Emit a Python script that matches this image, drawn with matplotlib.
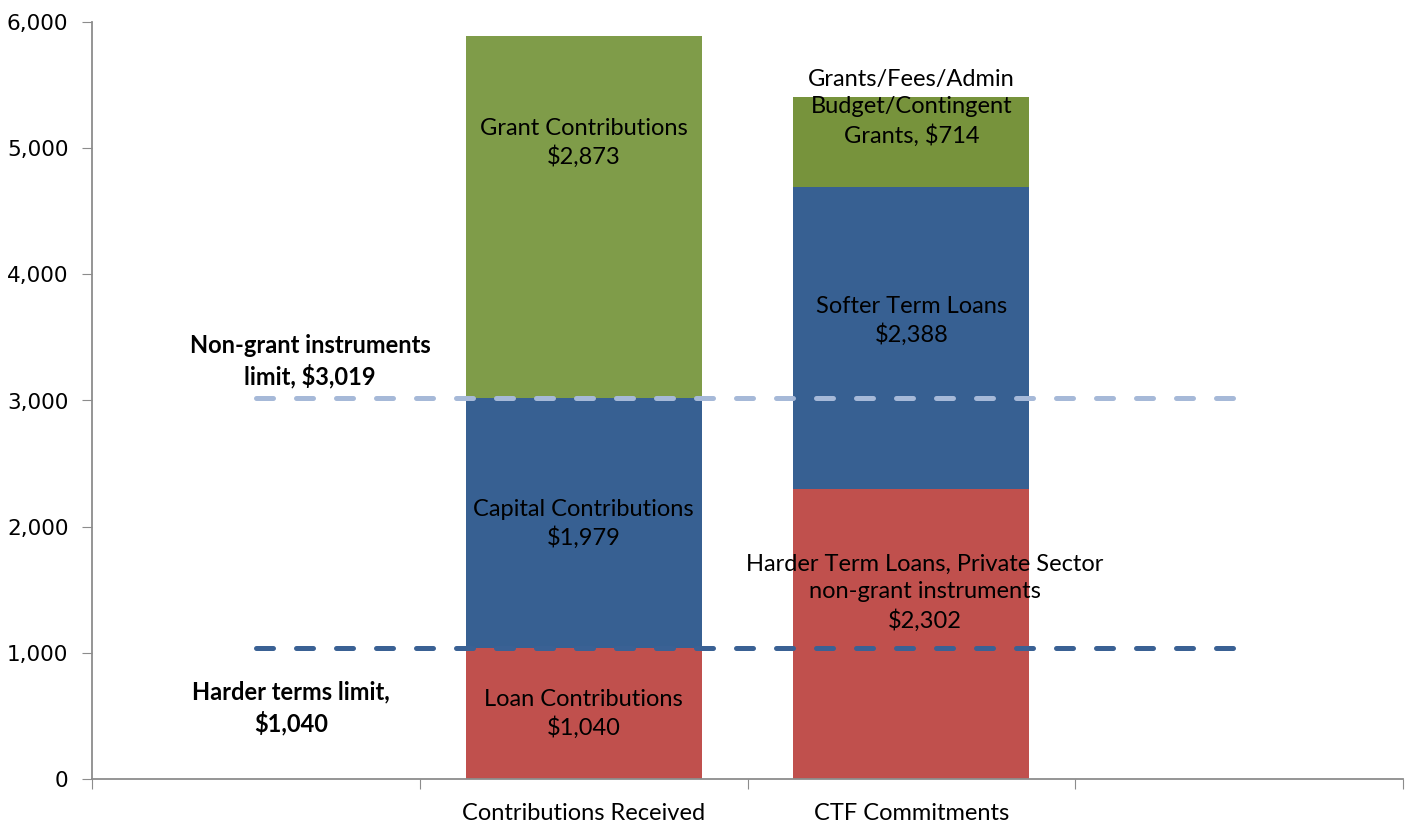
import matplotlib
matplotlib.use("Agg")
import matplotlib.pyplot as plt
import numpy as np

categories = ["", "Contributions Received", "CTF Commitments", ""]
bottom_vals = [0, 1040, 2302, 0]
middle_vals = [0, 1979, 2388, 0]
top_vals = [0, 2873, 714, 0]
harder_limit = [1040, 1040, 1040, 1040]
nongrant_limit = [3019, 3019, 3019, 3019]

bar_labels = [
    (1, 5041, "Grant Contributions\n$2,873"),
    (1, 2021, "Capital Contributions\n$1,979"),
    (1, 515, "Loan Contributions\n$1,040"),
    (2, 5318, "Grants/Fees/Admin\nBudget/Contingent\nGrants, $714"),
    (2, 3630, "Softer Term Loans\n$2,388"),
    (2.04, 1474, "Harder Term Loans, Private Sector\nnon-grant instruments\n$2,302"),
]
limit_labels = [
    (0.165, 3313, "Non-grant instruments\nlimit, $3,019"),
    (0.107, 563, "Harder terms limit,\n$1,040"),
]
yticks = [0, 1000, 2000, 3000, 4000, 5000, 6000]

red = "#C0504D"
blue = "#376092"
greens = ["#7F9C49", "#7F9C49", "#77933C", "#77933C"]
light_dash = "#A6B9D8"
dark_dash = "#3A6194"
axis_gray = "#8C8C8C"
txt_font = ["Lato", "DejaVu Sans"]
fs = 17
ls = 1.36

fig = plt.figure(figsize=(14.13, 8.22), dpi=100)
ax = fig.add_axes([92/1413, 1-779/822, (1403-92)/1413, (779-22)/822])

x = np.arange(len(categories))
w = 0.72
ax.bar(x, bottom_vals, w, color=red, zorder=2)
ax.bar(x, middle_vals, w, bottom=bottom_vals, color=blue, zorder=2)
b2 = np.array(bottom_vals) + np.array(middle_vals)
ax.bar(x, top_vals, w, bottom=b2, color=greens, zorder=2)

for vals, c in [(nongrant_limit, light_dash), (harder_limit, dark_dash)]:
    ln, = ax.plot(x, vals, color=c, lw=3.6, zorder=3, solid_capstyle="round",
                  dash_capstyle="round")
    ln.set_dashes([3.4, 4.6])

for xi, yi, t in bar_labels:
    ax.text(xi, yi, t, ha="center", va="center", fontsize=fs, family=txt_font,
            linespacing=ls, zorder=4)
for xi, yi, t in limit_labels:
    ax.text(xi, yi, t, ha="center", va="center", fontsize=fs, family=txt_font,
            fontweight="bold", linespacing=ls, zorder=4)

ax.set_xlim(-0.5, 3.5)
ax.set_ylim(0, 6000)
ax.set_yticks(yticks)
ax.set_yticklabels([f"{v:,}" for v in yticks], fontsize=15.5, family="DejaVu Sans")
ax.set_xticks([-0.5, 0.5, 1.5, 2.5, 3.5])
ax.set_xticklabels([])
ax.set_xticks(x, minor=True)
ax.set_xticklabels(categories, minor=True, fontsize=fs, family=txt_font)
ax.tick_params(axis="x", which="minor", length=0, pad=17)
ax.tick_params(axis="x", which="major", length=7, color=axis_gray, direction="out")
ax.tick_params(axis="y", length=7, color=axis_gray, direction="out", pad=10)
for s in ["top", "right"]:
    ax.spines[s].set_visible(False)
for s in ["left", "bottom"]:
    ax.spines[s].set_color(axis_gray)
    ax.spines[s].set_linewidth(1.3)

fig.savefig("out.png", dpi=100)
